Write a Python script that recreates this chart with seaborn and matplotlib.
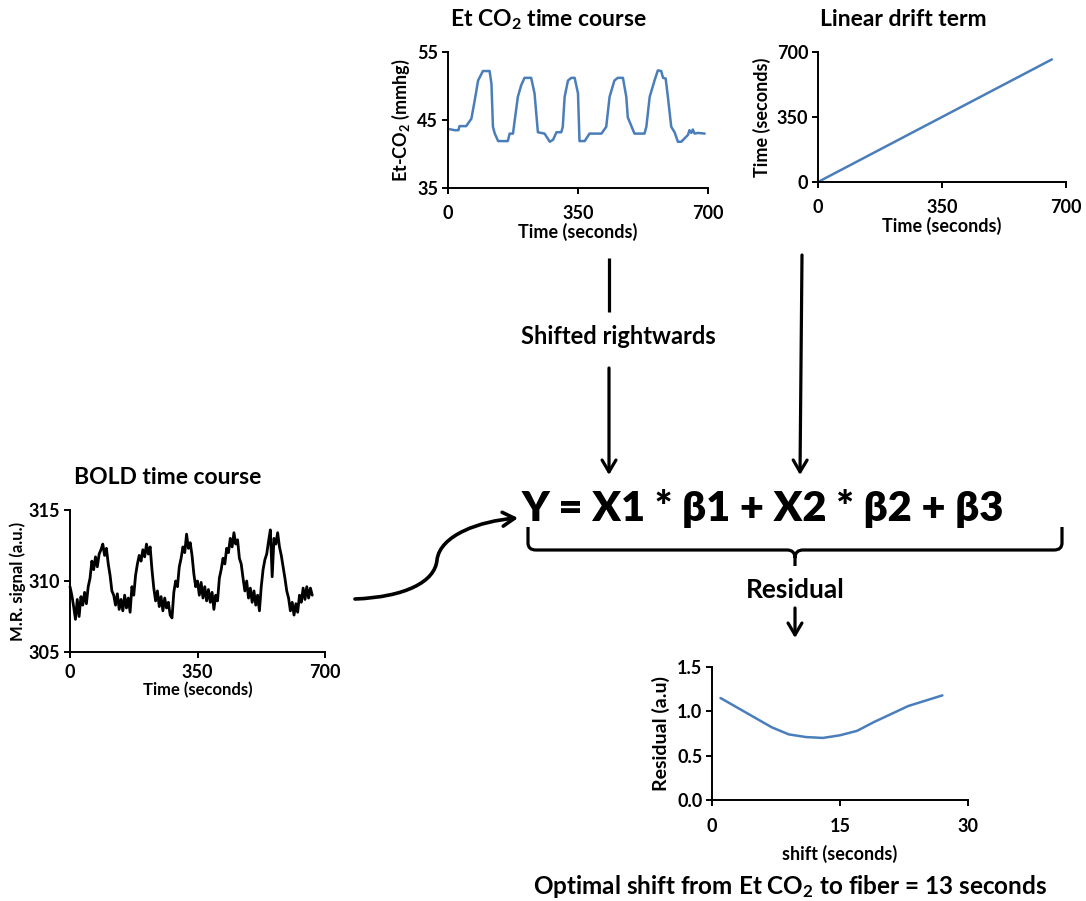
import matplotlib
matplotlib.use("Agg")
import matplotlib.pyplot as plt
import seaborn as sns
import pandas as pd
from matplotlib.path import Path
from matplotlib.patches import FancyArrowPatch, PathPatch

# ---------------- data ----------------
co2_time = [0, 18, 28, 31, 49, 54, 63, 72, 81, 94, 112, 117, 121, 126, 135, 148, 161, 166,
            175, 179, 188, 197, 206, 224, 233, 242, 260, 274, 283, 292, 305, 309, 314, 323,
            332, 341, 350, 354, 368, 381, 413, 426, 435, 448, 457, 471, 480, 484, 493, 502,
            529, 534, 543, 556, 565, 574, 579, 586, 592, 601, 610, 619, 628, 646, 650, 655,
            659, 664, 673, 691]
co2_value = [43.7, 43.5, 43.5, 44.1, 44.1, 44.5, 45.2, 47.9, 50.8, 52.2, 52.2, 50.3, 44.0,
             43.0, 41.9, 41.9, 41.9, 43.0, 43.0, 44.7, 48.4, 50.1, 51.2, 51.2, 48.9, 43.2,
             43.0, 41.8, 42.1, 43.2, 43.2, 44.0, 48.4, 50.8, 51.2, 51.2, 48.9, 41.9, 41.9,
             43.0, 43.0, 44.0, 48.4, 50.8, 51.2, 51.2, 48.4, 45.4, 44.2, 43.0, 43.0, 44.0,
             48.4, 50.8, 52.3, 52.2, 51.2, 51.1, 48.4, 44.0, 43.2, 41.8, 41.8, 42.8, 43.5,
             43.1, 43.6, 43.0, 43.1, 43.0]

drift_time = [0, 660]
drift_value = [0, 660]

bold_time = list(range(0, 670, 5))
bold_value = [309.6, 309.0, 308.2, 307.3, 308.7, 307.5, 308.9, 308.3, 309.2, 308.4,
              309.6, 310.2, 311.4, 310.8, 311.7, 311.0, 311.9, 312.2, 312.6, 311.8,
              312.3, 311.2, 310.4, 309.3, 309.0, 308.3, 309.1, 308.0, 308.7, 307.9,
              309.0, 308.1, 308.8, 307.8, 309.6, 309.0, 310.4, 311.2, 311.8, 311.4,
              312.2, 311.7, 312.6, 311.9, 312.4, 310.8, 309.5, 308.6, 309.3, 308.2,
              308.9, 307.9, 308.8, 308.1, 308.5, 307.6, 307.4, 309.2, 310.0, 309.6,
              311.0, 311.6, 312.4, 312.0, 313.3, 312.3, 312.7, 311.8, 310.5, 309.6,
              310.0, 309.0, 309.9, 308.8, 309.6, 308.6, 309.4, 308.5, 309.2, 308.0,
              309.0, 308.6, 310.2, 310.8, 311.6, 311.2, 312.3, 312.0, 313.0, 312.4,
              313.4, 312.6, 312.9, 311.6, 311.2, 310.2, 309.3, 310.0, 308.8, 309.5,
              308.5, 309.3, 308.3, 309.0, 307.9, 309.6, 310.8, 311.5, 311.9, 312.8,
              313.6, 310.3, 313.0, 312.6, 313.4, 312.4, 311.8, 311.0, 310.2, 309.3,
              308.8, 307.9, 308.5, 307.6, 308.4, 307.8, 309.0, 308.5, 309.5, 308.7,
              309.6, 308.8, 309.5, 309.0]

shift_s = [1, 3, 5, 7, 9, 11, 13, 15, 17, 19, 21, 23, 25, 27]
residual = [1.15, 1.04, 0.93, 0.82, 0.74, 0.71, 0.70, 0.73, 0.78, 0.88, 0.97, 1.06, 1.12, 1.18]

time_ticks = [0, 350, 700]
co2_ticks = [35, 45, 55]
drift_ticks = [0, 350, 700]
bold_ticks = [305, 310, 315]
shift_ticks = [0, 15, 30]
resid_ticks = [0.0, 0.5, 1.0, 1.5]

# ---------------- style ----------------
sns.set_theme(style="ticks")
plt.rcParams['font.family'] = ['Lato', 'DejaVu Sans']
plt.rcParams.update({
    'font.weight': 'bold',
    'axes.labelweight': 'bold',
    'mathtext.default': 'regular',
    'text.color': 'black',
    'axes.labelcolor': 'black',
    'xtick.color': 'black',
    'ytick.color': 'black',
    'axes.edgecolor': 'black',
})

W, H = 1086, 901
fig = plt.figure(figsize=(W / 100, H / 100), dpi=100)
BLUE = '#4a7ebb'


def rect(l, t, r, b):
    return [l / W, 1 - b / H, (r - l) / W, (b - t) / H]


def style(ax, xlim, xt, xtl, ylim, yt, ytl, xlab, ylab, tick_size=13, xlab_size=13,
          ylab_size=13, xpad=8, xlabpad=1, ylabpad=4):
    ax.set_xlim(*xlim)
    ax.set_ylim(*ylim)
    ax.set_xticks(xt)
    ax.set_xticklabels(xtl)
    ax.set_yticks(yt)
    ax.set_yticklabels(ytl)
    sns.despine(ax=ax)
    for s in ('left', 'bottom'):
        ax.spines[s].set_linewidth(1.4)
    ax.tick_params(axis='x', length=4, width=1.4, pad=xpad, labelsize=tick_size)
    ax.tick_params(axis='y', length=4, width=1.4, pad=3, labelsize=tick_size)
    ax.set_xlabel(xlab, fontsize=xlab_size, labelpad=xlabpad)
    ax.set_ylabel(ylab, fontsize=ylab_size, labelpad=ylabpad)
    ax.set_facecolor('none')


# Et CO2
ax1 = fig.add_axes(rect(448, 52, 708, 188))
sns.lineplot(x=co2_time, y=co2_value, ax=ax1, color=BLUE, lw=1.8, clip_on=False)
style(ax1, (0, 700), time_ticks, [str(t) for t in time_ticks], (35, 55), co2_ticks,
      [str(t) for t in co2_ticks], 'Time (seconds)', 'Et-CO$_2$ (mmhg)')

# Drift
ax2 = fig.add_axes(rect(818, 52, 1066, 182))
sns.lineplot(x=drift_time, y=drift_value, ax=ax2, color=BLUE, lw=1.8, clip_on=False)
style(ax2, (0, 700), time_ticks, [str(t) for t in time_ticks], (0, 700), drift_ticks,
      [str(t) for t in drift_ticks], 'Time (seconds)', 'Time (seconds)')

# BOLD
ax3 = fig.add_axes(rect(70, 510, 325, 652))
sns.lineplot(x=bold_time, y=bold_value, ax=ax3, color='black', lw=2.0, clip_on=False)
style(ax3, (0, 700), time_ticks, [str(t) for t in time_ticks], (305, 315), bold_ticks,
      [str(t) for t in bold_ticks], 'Time (seconds)', 'M.R. signal (a.u.)', tick_size=13,
      xlab_size=12, ylab_size=12, xpad=5, xlabpad=0, ylabpad=2)

# Residual
ax4 = fig.add_axes(rect(712, 667, 968, 800))
sns.lineplot(x=shift_s, y=residual, ax=ax4, color=BLUE, lw=1.8, clip_on=False)
style(ax4, (0, 30), shift_ticks, [str(t) for t in shift_ticks], (0, 1.5), resid_ticks,
      ['%.1f' % v for v in resid_ticks], 'shift (seconds)', 'Residual (a.u)',
      ylab_size=14, xpad=9, xlabpad=7, ylabpad=5)

# ---------------- overlay (diagram) ----------------
ov = fig.add_axes([0, 0, 1, 1])
ov.set_xlim(0, W)
ov.set_ylim(H, 0)
ov.axis('off')
ov.set_facecolor('none')

ov.text(548, 20, 'Et CO$_2$ time course', ha='center', va='center', fontsize=16.5, fontweight='bold')
ov.text(903, 20, 'Linear drift term', ha='center', va='center', fontsize=16.5, fontweight='bold')
ov.text(168, 477, 'BOLD time course', ha='center', va='center', fontsize=16.5, fontweight='bold')
ov.text(618, 337, 'Shifted rightwards', ha='center', va='center', fontsize=17, fontweight='bold')
ov.text(795, 590, 'Residual', ha='center', va='center', fontsize=19, fontweight='bold')
ov.text(790, 886, 'Optimal shift from Et CO$_2$ to fiber = 13 seconds', ha='center', va='center',
        fontsize=17.5, fontweight='bold')
ov.text(763, 521, 'Y = X1 * \u03b21 + X2 * \u03b22 + \u03b23', ha='center', va='baseline',
        fontsize=30, fontweight='heavy', family=['Lato', 'DejaVu Sans'])

AS = '->,head_length=0.85,head_width=0.5'
ov.plot([609, 609], [258, 312], color='black', lw=2.3, solid_capstyle='butt')
for (x0, y0, x1, y1) in [(609, 368, 609, 475), (802, 255, 800, 475), (795, 608, 795, 638)]:
    ov.add_patch(FancyArrowPatch((x0, y0), (x1, y1), arrowstyle=AS, mutation_scale=10,
                                 lw=2.3, color='black', shrinkA=0, shrinkB=0))

curve = Path([(355, 599), (405, 597), (435, 582), (437, 560),
              (440, 535), (480, 521), (518, 518)],
             [Path.MOVETO, Path.CURVE4, Path.CURVE4, Path.CURVE4,
              Path.CURVE4, Path.CURVE4, Path.CURVE4])
ov.add_patch(FancyArrowPatch(path=curve, arrowstyle=AS, mutation_scale=10, lw=2.6,
                             color='black'))

brace = Path([(528, 527), (528, 543), (528, 550), (536, 550), (787, 550), (795, 550),
              (795, 558), (795, 566),
              (1062, 527), (1062, 543), (1062, 550), (1054, 550), (803, 550), (795, 550),
              (795, 558)],
             [Path.MOVETO, Path.LINETO, Path.CURVE3, Path.CURVE3, Path.LINETO, Path.CURVE3,
              Path.CURVE3, Path.LINETO,
              Path.MOVETO, Path.LINETO, Path.CURVE3, Path.CURVE3, Path.LINETO, Path.CURVE3,
              Path.CURVE3])
ov.add_patch(PathPatch(brace, fill=False, lw=2.3, edgecolor='black'))

fig.savefig('out.png', dpi=100)
